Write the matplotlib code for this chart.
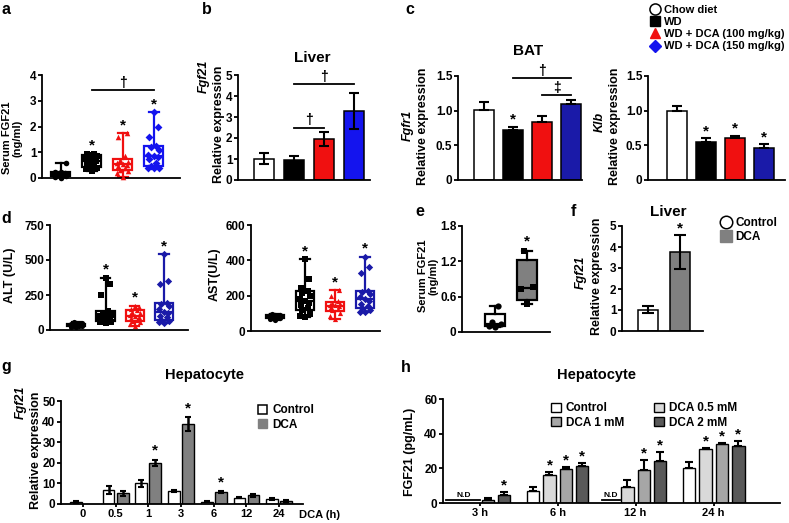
import numpy as np
import matplotlib
matplotlib.use('Agg')
import matplotlib.pyplot as plt
from matplotlib.lines import Line2D
from matplotlib.patches import Patch

plt.rcParams['font.family'] = ['Liberation Sans', 'DejaVu Sans']
plt.rcParams['font.weight'] = 'bold'
plt.rcParams['axes.linewidth'] = 1.3

# ---------------- data ----------------
diet_groups = ['Chow diet', 'WD', 'WD + DCA (100 mg/kg)', 'WD + DCA (150 mg/kg)']

# a: serum FGF21 (ng/ml)
a_chow = [0.0, 0.03, 0.08, 0.1, 0.15, 0.18, 0.2, 0.22, 0.25, 0.58]
a_wd = [0.28, 0.35, 0.4, 0.45, 0.55, 0.6, 0.65, 0.7, 0.75, 0.85, 0.9, 0.93, 0.95]
a_d100 = [0.05, 0.2, 0.28, 0.32, 0.4, 0.45, 0.5, 0.55, 0.6, 0.62, 0.7, 0.85, 1.6, 1.74]
a_d150 = [0.38, 0.4, 0.4, 0.45, 0.6, 0.75, 0.8, 0.85, 0.9, 1.1, 1.2, 1.25, 1.6, 2.0, 2.57]

# b: liver Fgf21
b_mean = [1.02, 0.97, 1.94, 3.3]
b_err = [0.28, 0.15, 0.33, 0.85]

# c: BAT Fgfr1 / Klb
fgfr1_mean = [1.01, 0.72, 0.83, 1.09]
fgfr1_err = [0.11, 0.05, 0.09, 0.07]
klb_mean = [1.0, 0.55, 0.6, 0.46]
klb_err = [0.07, 0.05, 0.04, 0.06]

# d: ALT / AST (U/L)
alt_chow = [18, 25, 28, 30, 32, 35, 38, 40, 45, 50, 55]
alt_wd = [50, 55, 60, 65, 70, 80, 90, 95, 100, 110, 125, 135, 250, 330, 375]
alt_d100 = [30, 40, 55, 65, 75, 85, 95, 100, 110, 120, 130, 140, 150, 165, 175]
alt_d150 = [50, 55, 65, 75, 90, 100, 120, 130, 150, 170, 185, 190, 330, 350, 545]
ast_chow = [65, 70, 72, 75, 78, 80, 82, 85, 88, 92, 95]
ast_wd = [80, 85, 95, 120, 130, 145, 160, 170, 180, 200, 215, 225, 245, 295, 405]
ast_d100 = [70, 85, 100, 120, 125, 135, 140, 145, 150, 155, 160, 170, 200, 230]
ast_d150 = [105, 110, 120, 130, 140, 155, 170, 180, 195, 210, 220, 225, 330, 360, 420]

# e: serum FGF21, control vs DCA
e_ctrl = [0.09, 0.11, 0.14, 0.17, 0.44]
e_dca = [0.47, 0.73, 0.76, 1.37]

# f: liver Fgf21, control vs DCA
f_mean = [1.02, 3.75]
f_err = [0.15, 0.8]

# g: hepatocyte Fgf21 time course
g_times = ['0', '0.5', '1', '3', '6', '12', '24']
g_ctrl = [1.0, 6.9, 10.0, 6.3, 1.1, 3.1, 2.3]
g_ctrl_err = [0.3, 1.9, 1.8, 0.3, 0.3, 0.4, 0.4]
g_dca = [np.nan, 5.2, 20.0, 38.8, 5.6, 4.2, 1.6]
g_dca_err = [np.nan, 1.1, 1.5, 3.2, 0.5, 0.8, 0.5]
g_star = [False, False, True, True, True, False, False]

# h: hepatocyte FGF21 secretion (pg/mL)
h_times = ['3 h', '6 h', '12 h', '24 h']
h_labels = ['Control', 'DCA 0.5 mM', 'DCA 1 mM', 'DCA 2 mM']
h_mean = [[np.nan, 6.7, np.nan, 20.0],
          [np.nan, 16.3, 9.2, 31.4],
          [1.5, 19.8, 19.2, 34.1],
          [4.8, 21.5, 24.0, 32.9]]
h_err = [[np.nan, 2.5, np.nan, 3.7],
         [np.nan, 1.6, 4.3, 0.5],
         [1.4, 0.8, 5.4, 0.6],
         [1.4, 1.6, 5.4, 2.7]]
h_star = [[False, False, False, False],
          [False, True, False, True],
          [False, True, True, True],
          [True, True, True, True]]

# ---------------- helpers ----------------
W, H = 789, 523
fig = plt.figure(figsize=(W / 100, H / 100), dpi=100)

RED = '#f01010'
BLUE = '#1414ee'
NAVY = '#1a1aa8'
GRAY = '#808080'
TICK = 8.5


def add_ax(x0, x1, ytop, ybot):
    return fig.add_axes([x0 / W, 1 - ybot / H, (x1 - x0) / W, (ybot - ytop) / H])


def ftext(x, y, s, **kw):
    kw.setdefault('ha', 'center')
    kw.setdefault('va', 'center')
    fig.text(x / W, 1 - y / H, s, **kw)


def vlabel(x, y, s, size=9, style='normal'):
    ftext(x, y, s, rotation=90, fontsize=size, fontstyle=style, fontweight='bold')


def style_ax(ax, yticks, ylabels, xlim):
    ax.spines['top'].set_visible(False)
    ax.spines['right'].set_visible(False)
    ax.set_yticks(yticks)
    ax.set_yticklabels(ylabels)
    ax.set_ylim(yticks[0], yticks[-1])
    ax.set_xlim(*xlim)
    ax.tick_params(axis='y', width=1.3, length=3, labelsize=TICK, pad=1)
    ax.tick_params(axis='x', bottom=False, labelbottom=False)


def star(ax, x, y, size=11):
    ax.text(x, y, '*', ha='center', va='center', fontsize=size, clip_on=False)


def bracket(ax, x0, x1, y, sym, dy):
    ax.plot([x0, x1], [y, y], color='black', lw=1.3, clip_on=False)
    ax.text((x0 + x1) / 2, y + dy, sym, ha='center', va='center', fontsize=10, clip_on=False)


def spread(n, w):
    pat = np.array([0, -1, 1, -0.5, 0.5, -0.8, 0.8])
    return np.resize(pat, n) * w


def boxes(ax, groups, colors, markers, fills, msize=16):
    for i, (vals, c, m, fc) in enumerate(zip(groups, colors, markers, fills)):
        q1, med, q3 = np.percentile(vals, [25, 50, 75], method='weibull')
        st = dict(med=med, q1=q1, q3=q3, whislo=min(vals), whishi=max(vals), fliers=[])
        ax.bxp([st], positions=[i], widths=0.62, patch_artist=True, showfliers=False,
               capwidths=0.32,
               boxprops=dict(facecolor=fc, edgecolor=c, linewidth=1.6),
               medianprops=dict(color=c, linewidth=1.6),
               whiskerprops=dict(color=c, linewidth=1.6),
               capprops=dict(color=c, linewidth=1.6))
        vs = np.sort(vals)
        ax.scatter(i + spread(len(vs), 0.18), vs, marker=m, s=msize, color=c,
                   zorder=3, clip_on=False, linewidths=0)


def bars(ax, means, errs, colors, width, both=True, capsize=3.5):
    x = np.arange(len(means))
    ax.bar(x, means, width=width, color=colors, edgecolor='black', linewidth=1.1, zorder=2)
    lo = errs if both else [0] * len(errs)
    ax.errorbar(x, means, yerr=[lo, errs], fmt='none', ecolor='black', elinewidth=1.5,
                capsize=capsize, capthick=1.5, zorder=3)
    return x


# ---------------- panel letters / titles ----------------
for s, x, y in [('a', 6, 10), ('b', 207, 10), ('c', 410, 10), ('d', 6, 218),
                ('e', 420, 212), ('f', 573, 212), ('g', 6, 367), ('h', 406, 367)]:
    ftext(x, y, s, fontsize=11.5, fontweight='bold')

ftext(312, 58, 'Liver', fontsize=11)
ftext(528, 51, 'BAT', fontsize=11)
ftext(668, 212, 'Liver', fontsize=11)
ftext(205, 375, 'Hepatocyte', fontsize=10.5)
ftext(597, 375, 'Hepatocyte', fontsize=10.5)

# ---------------- a ----------------
ax = add_ax(42, 180, 75, 178)
style_ax(ax, [0, 1, 2, 3, 4], ['0', '1', '2', '3', '4'], (-0.6, 3.85))
boxes(ax, [a_chow, a_wd, a_d100, a_d150], ['black', 'black', RED, BLUE],
      ['o', 's', '^', 'D'], ['white', 'white', 'white', 'white'])
for i, g in zip([1, 2, 3], [a_wd, a_d100, a_d150]):
    star(ax, i, max(g) + 0.3)
bracket(ax, 1, 3, 3.4, '†', 0.3)
ftext(12, 138, 'Serum FGF21\n(ng/ml)', rotation=90, fontsize=8, linespacing=1.05)

# ---------------- b ----------------
ax = add_ax(238, 370, 75, 180)
style_ax(ax, [0, 1, 2, 3, 4, 5], ['0', '1', '2', '3', '4', '5'], (-0.87, 3.53))
bars(ax, b_mean, b_err, ['white', 'black', RED, BLUE], 0.66)
bracket(ax, 1, 2, 2.5, '†', 0.35)
bracket(ax, 1, 3, 4.55, '†', 0.35)
vlabel(204, 76, 'Fgf21', style='italic')
vlabel(219, 124, 'Relative expression')

# ---------------- c ----------------
ax = add_ax(458, 582, 76, 180)
style_ax(ax, [0, 0.5, 1.0, 1.5], ['0', '0.5', '1.0', '1.5'], (-0.9, 3.38))
bars(ax, fgfr1_mean, fgfr1_err, ['white', 'black', RED, NAVY], 0.7, both=False)
star(ax, 1, 0.87)
bracket(ax, 1, 3, 1.47, '†', 0.1)
bracket(ax, 2, 3, 1.22, '‡', 0.1)
vlabel(408, 125, 'Fgfr1', style='italic')
vlabel(423, 126, 'Relative expression')

ax = add_ax(648, 785, 76, 180)
style_ax(ax, [0, 0.5, 1.0, 1.5], ['0', '0.5', '1.0', '1.5'], (-1.0, 3.72))
bars(ax, klb_mean, klb_err, ['white', 'black', RED, NAVY], 0.7, both=False)
for i in [1, 2, 3]:
    star(ax, i, klb_mean[i] + klb_err[i] + 0.1)
vlabel(600, 122, 'Klb', style='italic')
vlabel(615, 126, 'Relative expression')

# top legend
leg_handles = [
    Line2D([], [], marker='o', ls='none', mfc='white', mec='black', ms=8, mew=1.1),
    Line2D([], [], marker='s', ls='none', color='black', ms=7),
    Line2D([], [], marker='^', ls='none', color=RED, ms=7.5),
    Line2D([], [], marker='D', ls='none', color=BLUE, ms=6.5),
]
fig.legend(leg_handles, diet_groups, loc='upper left', bbox_to_anchor=(642 / W, 1 + 3 / H),
           frameon=False, fontsize=8, handlelength=1.0, handletextpad=0.25,
           labelspacing=0.2, borderpad=0.2)

# ---------------- d ----------------
ax = add_ax(50, 188, 225, 330)
style_ax(ax, [0, 250, 500, 750], ['0', '250', '500', '750'], (-0.9, 3.82))
boxes(ax, [alt_chow, alt_wd, alt_d100, alt_d150], ['black', 'black', RED, NAVY],
      ['o', 's', '^', 'D'], ['white'] * 4, msize=14)
for i, g in zip([1, 2, 3], [alt_wd, alt_d100, alt_d150]):
    star(ax, i, max(g) + 55)
vlabel(10, 275, 'ALT (U/L)')

ax = add_ax(251, 380, 225, 331)
style_ax(ax, [0, 200, 400, 600], ['0', '200', '400', '600'], (-0.8, 3.5))
boxes(ax, [ast_chow, ast_wd, ast_d100, ast_d150], ['black', 'black', RED, NAVY],
      ['o', 's', '^', 'D'], ['white'] * 4, msize=14)
for i, g in zip([1, 2, 3], [ast_wd, ast_d100, ast_d150]):
    star(ax, i, max(g) + 45)
vlabel(215, 274, 'AST(U/L)')

# ---------------- e ----------------
ax = add_ax(462, 550, 226, 332)
style_ax(ax, [0, 0.6, 1.2, 1.8], ['0', '0.6', '1.2', '1.8'], (-1.03, 1.72))
boxes(ax, [e_ctrl, e_dca], ['black', 'black'], ['o', 's'], ['white', GRAY], msize=20)
star(ax, 1, max(e_dca) + 0.17)
ftext(428, 276, 'Serum FGF21\n(ng/ml)', rotation=90, fontsize=8, linespacing=1.0)

# ---------------- f ----------------
ax = add_ax(622, 703, 226, 331)
style_ax(ax, [0, 1, 2, 3, 4, 5], ['0', '1', '2', '3', '4', '5'], (-0.81, 1.72))
bars(ax, f_mean, f_err, ['white', GRAY], 0.62, capsize=4)
star(ax, 1, f_mean[1] + f_err[1] + 0.35)
vlabel(581, 272, 'Fgf21', style='italic')
vlabel(597, 276, 'Relative expression')
f_handles = [Line2D([], [], marker='o', ls='none', mfc='white', mec='black', ms=9, mew=1.1),
             Line2D([], [], marker='s', ls='none', color=GRAY, ms=8.5)]
fig.legend(f_handles, ['Control', 'DCA'], loc='upper left',
           bbox_to_anchor=(712 / W, 1 - 209 / H), frameon=False, fontsize=8.5,
           handlelength=1.0, handletextpad=0.25, labelspacing=0.15, borderpad=0.2)

# ---------------- g ----------------
ax = add_ax(61, 303, 401, 504)
style_ax(ax, [0, 10, 20, 30, 40, 50], ['0', '10', '20', '30', '40', '50'], (-0.67, 6.73))
xg = np.arange(len(g_times))
off, bw = 0.215, 0.36
ax.bar(xg - off, g_ctrl, width=bw, color='white', edgecolor='black', lw=1.0, zorder=2)
ax.errorbar(xg - off, g_ctrl, yerr=g_ctrl_err, fmt='none', ecolor='black', elinewidth=1.8,
            capsize=2, capthick=1.5, zorder=3)
ax.bar(xg + off, g_dca, width=bw, color=GRAY, edgecolor='black', lw=1.0, zorder=2)
ax.errorbar(xg + off, g_dca, yerr=g_dca_err, fmt='none', ecolor='black', elinewidth=1.8,
            capsize=2, capthick=1.5, zorder=3)
for i in xg:
    if g_star[i]:
        star(ax, i + off, g_dca[i] + g_dca_err[i] + 4.5)
ax.set_xticks(xg)
ax.set_xticklabels(g_times)
ax.tick_params(axis='x', bottom=True, labelbottom=True, labelsize=8, width=1.3, length=2.5,
               pad=1)
ax.text(1.07, -0.06, 'DCA (h)', transform=ax.transAxes, ha='center', va='top', fontsize=8)
vlabel(21, 402, 'Fgf21', style='italic')
vlabel(36, 450, 'Relative expression')
g_handles = [Patch(facecolor='white', edgecolor='black', lw=1.1),
             Patch(facecolor=GRAY, edgecolor=GRAY)]
ax.legend(g_handles, ['Control', 'DCA'], loc='upper left', bbox_to_anchor=(0.77, 1.07),
          frameon=False, fontsize=8.5, handlelength=0.8, handleheight=0.8,
          handletextpad=0.4, labelspacing=0.2)

# ---------------- h ----------------
ax = add_ax(443, 780, 399, 503)
style_ax(ax, [0, 20, 40, 60], ['0', '20', '40', '60'], (-0.47, 3.85))
xh = np.arange(len(h_times))
h_colors = ['white', '#d9d9d9', '#a6a6a6', '#595959']
hw, hs = 0.16, 0.21
for k in range(4):
    pos = xh + (k - 1.5) * hs
    m = np.array(h_mean[k], dtype=float)
    e = np.array(h_err[k], dtype=float)
    ax.bar(pos, m, width=hw, color=h_colors[k], edgecolor='black', lw=1.0, zorder=2,
           label=h_labels[k])
    ax.errorbar(pos, m, yerr=[np.zeros_like(e), e], fmt='none', ecolor='black',
                elinewidth=1.5, capsize=3, capthick=1.5, zorder=3)
    for j in range(len(h_times)):
        if h_star[k][j]:
            star(ax, pos[j], m[j] + e[j] + 3.8)
# N.D marks where nothing was detected
for j in range(len(h_times)):
    nd = [k for k in range(4) if np.isnan(h_mean[k][j])]
    if nd:
        x0 = j + (nd[0] - 1.5) * hs - hw * 0.7
        x1 = j + (nd[-1] - 1.5) * hs + hw * 0.7
        ax.plot([x0, x1], [1.8, 1.8], color='black', lw=1.3, zorder=3)
        ax.text((x0 + x1) / 2, 2.3, 'N.D', ha='center', va='bottom', fontsize=6)
ax.set_xticks(xh)
ax.set_xticklabels(h_times)
ax.tick_params(axis='x', bottom=True, labelbottom=True, labelsize=8, width=1.3, length=2.5,
               pad=1)
hd, lb = ax.get_legend_handles_labels()
ax.legend([hd[0], hd[2], hd[1], hd[3]], [lb[0], lb[2], lb[1], lb[3]], ncol=2,
          loc='upper left', bbox_to_anchor=(0.29, 1.07), frameon=False, fontsize=8.5,
          handlelength=0.8, handleheight=0.8, handletextpad=0.4, labelspacing=0.2,
          columnspacing=2.6)
vlabel(410, 452, 'FGF21 (pg/mL)')

fig.savefig('out.png', dpi=100)
